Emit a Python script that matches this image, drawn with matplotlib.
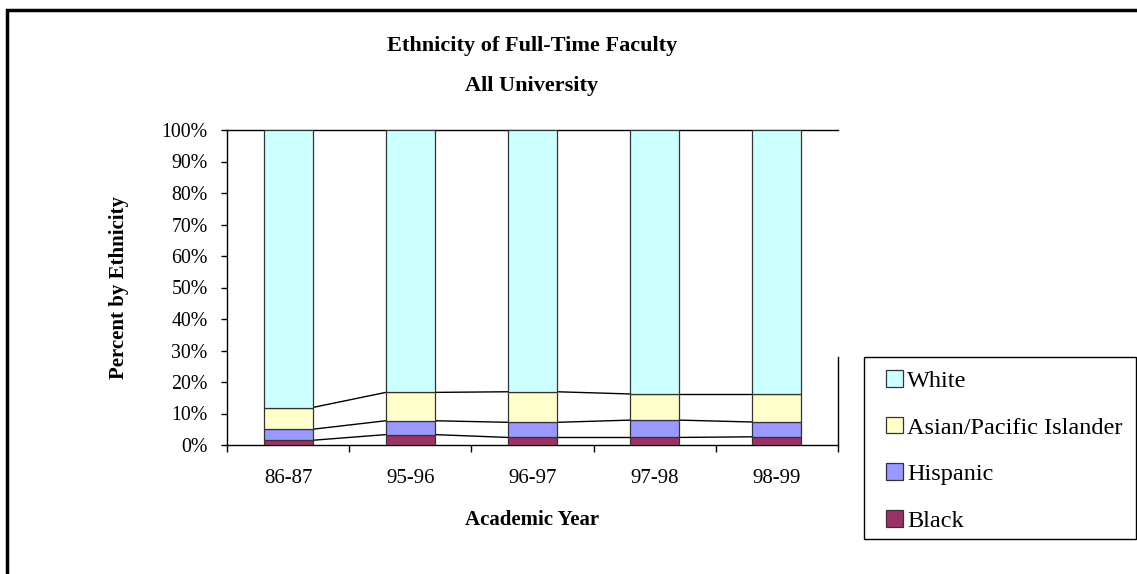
#!/usr/bin/env python3
"""
Ethnicity of full-time faculty, stacked percent bars (Excel style)
"""

import matplotlib
matplotlib.use("Agg")
import matplotlib.pyplot as plt
import matplotlib.patches as patches
import numpy as np

plt.rcParams['font.family'] = ['Liberation Serif', 'DejaVu Serif']

years = ['86-87', '95-96', '96-97', '97-98', '98-99']
black = [1.5, 3.3, 2.4, 2.4, 2.6]
hispanic = [3.5, 4.4, 4.8, 5.5, 4.7]
asian = [6.9, 9.0, 9.7, 8.3, 8.9]
white = [88.1, 83.3, 83.1, 83.8, 83.8]

series = [('Black', black, '#993366'),
          ('Hispanic', hispanic, '#9999FF'),
          ('Asian/Pacific Islander', asian, '#FFFFCC'),
          ('White', white, '#CCFFFF')]

W, H = 1137, 574
fig = plt.figure(figsize=(W / 100, H / 100), dpi=100)
ax = fig.add_axes([227 / W, 1 - 445 / H, 611 / W, 315 / H])

# outer chart frame (runs off the right and bottom edges)
frame = patches.Rectangle((7 / W, -0.05), 1.2, 1 - 10 / H + 0.05,
                          transform=fig.transFigure, fill=False,
                          edgecolor='black', linewidth=2.5, clip_on=False)
fig.add_artist(frame)

x = np.arange(len(years))
bar_w = 0.4
bottom = np.zeros(len(years))
handles = {}
for name, vals, color in series:
    vals = np.array(vals)
    b = ax.bar(x, vals, bar_w, bottom=bottom, color=color,
               edgecolor='#333333', linewidth=0.9, zorder=3)
    handles[name] = b
    top = bottom + vals
    # series lines between bars
    if name != 'White':
        for i in range(len(years) - 1):
            ax.plot([x[i] + bar_w / 2, x[i + 1] - bar_w / 2],
                    [top[i], top[i + 1]], color='black', linewidth=1.0,
                    zorder=2)
    bottom = top

ax.set_xlim(-0.5, len(years) - 0.5)
ax.set_ylim(0, 100)
ax.set_yticks(np.arange(0, 101, 10))
ax.set_yticklabels([f'{v}%' for v in range(0, 101, 10)], fontsize=14.3)
ax.set_xticks(x)
ax.set_xticklabels(years, fontsize=15)
ax.set_xticks(np.arange(-0.5, len(years), 1.0), minor=True)
ax.tick_params(axis='x', which='major', length=0, pad=17)
ax.tick_params(axis='x', which='minor', length=5, width=1, direction='out')
ax.tick_params(axis='y', length=4, width=1, direction='out', pad=10)

for s in ['top', 'right']:
    ax.spines[s].set_visible(False)
ax.spines['left'].set_linewidth(1.0)
ax.spines['bottom'].set_linewidth(1.0)
# plot area top border and short right border
ax.plot([0, 1], [1, 1], transform=ax.transAxes, color='black',
        linewidth=1.0, clip_on=False)
ax.plot([1, 1], [0, 0.28], transform=ax.transAxes, color='black',
        linewidth=1.0, clip_on=False)

ax.set_xlabel('Academic Year', fontsize=15, fontweight='bold')
ax.xaxis.set_label_coords(0.5, -0.205)
ax.set_ylabel('Percent by Ethnicity', fontsize=15, fontweight='bold')
ax.yaxis.set_label_coords(-0.160, 0.5)

fig.text(532 / W, 1 - 46 / H, 'Ethnicity of Full-Time Faculty',
         ha='center', va='center', fontsize=16, fontweight='bold')
fig.text(532 / W, 1 - 86 / H, 'All University',
         ha='center', va='center', fontsize=16, fontweight='bold')

# legend box drawn separately so its size matches the original
legend_box = patches.Rectangle((864 / W, 1 - 539 / H), (1136 - 864) / W,
                               (539 - 357) / H, transform=fig.transFigure,
                               facecolor='white', edgecolor='black',
                               linewidth=1.0)
fig.add_artist(legend_box)
order = ['White', 'Asian/Pacific Islander', 'Hispanic', 'Black']
leg = fig.legend([handles[n] for n in order], order,
                 loc='upper left', bbox_to_anchor=(886 / W, 1 - 370 / H),
                 fontsize=17.5, frameon=False,
                 handlelength=0.68, handleheight=0.68, handletextpad=0.2,
                 labelspacing=1.02, borderpad=0, borderaxespad=0)

fig.savefig('out.png', dpi=100, facecolor='white')
